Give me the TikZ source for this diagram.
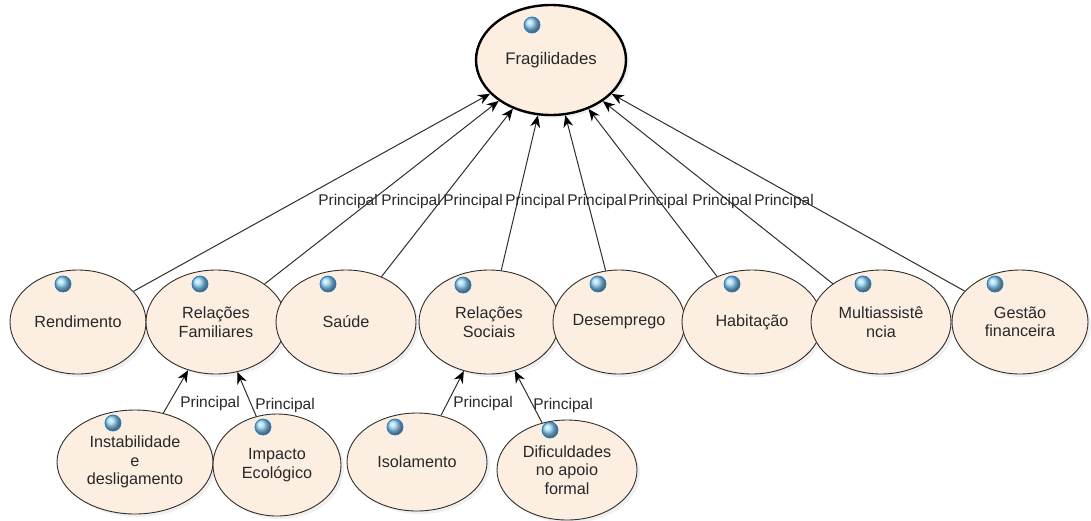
\documentclass[tikz,border=0pt]{standalone}
\usepackage{fontspec}
\setmainfont{Liberation Sans}
\usetikzlibrary{arrows.meta,shadows,shapes.geometric}
\definecolor{peach}{RGB}{252,239,225}
\definecolor{rim}{RGB}{50,45,40}
\definecolor{txt}{RGB}{40,40,40}
\definecolor{dotblue}{RGB}{150,215,252}
\definecolor{dotrim}{RGB}{40,125,195}

\begin{document}
\begin{tikzpicture}[x=1pt,y=-1pt] % pixel grid, y downwards
\tikzstyle{myoval} = [ellipse, draw=rim, line width=0.9pt, fill=peach, text=txt, align=center, inner sep=0pt,
  minimum width=140pt, minimum height=104pt, font=\fontsize{16.2}{18.5}\selectfont,
  drop shadow={opacity=0.12, shadow xshift=3pt, shadow yshift=-3pt}] % concept node
\tikzstyle{myroot} = [myoval, draw=black, line width=2.4pt, minimum width=150pt, minimum height=110pt,
  font=\fontsize{16.8}{19}\selectfont] % root node
\tikzstyle{link} = [draw=rim, line width=1pt, -{Stealth[length=12pt, width=10pt, black]}] % relation arrow
\tikzstyle{lbl} = [text=txt, inner sep=0pt, font=\fontsize{15.5}{18.5}\selectfont] % relation label
\tikzstyle{ball} = [ball color=dotblue, draw=dotrim, line width=0.8pt] % blue marker
\useasboundingbox (0,0) rectangle (1091,520);
\node[myroot] (frag) at (551,60) {Fragilidades};
% second row
\node[myoval, minimum width=136pt] (rend) at (78,322) {Rendimento};
\node[myoval] (relfam) at (216,322) {Relações\\Familiares};
\node[myoval] (saude) at (346,322) {Saúde};
\node[myoval] (relsoc) at (489,322) {Relações\\Sociais};
\node[myoval, minimum width=132pt] (desemp) at (619,322) {Desemprego};
\node[myoval] (habit) at (752,322) {Habitação};
\node[myoval] (multi) at (881,322) {Multiassistê\\ncia};
\node[myoval, minimum width=136pt] (gestao) at (1020,322) {Gestão\\financeira};
% third row
\node[myoval, minimum width=156pt] (inst) at (135,462) {Instabilidade\\e\\desligamento};
\node[myoval, minimum width=128pt, minimum height=102pt] (impacto) at (277,465) {Impacto\\Ecológico};
\node[myoval, minimum height=98pt] (isol) at (417,462) {Isolamento};
\node[myoval, minimum height=100pt] (dific) at (567,470) {Dificuldades\\no apoio\\formal};
% markers
\foreach \x/\y in {532/25, 63/284, 200/284, 328/284, 463/285, 598/284, 732/284, 863/284, 995/284,
  113/423, 263/427, 395/427, 550/430}
  \shadedraw[ball] (\x,\y) circle (8);
% arrows
\foreach \n in {rend,relfam,saude,relsoc,desemp,habit,multi,gestao}
  \draw[link] (\n) -- (frag);
\draw[link] (inst) -- (relfam);
\draw[link] (impacto) -- (relfam);
\draw[link] (isol) -- (relsoc);
\draw[link] (dific) -- (relsoc);
% labels
\foreach \x [count=\i] in {348,411,473,535,597,658,722,784}
  \node[lbl] (p\i) at (\x,201) {Principal};
\node[lbl] (q1) at (210,403) {Principal};
\node[lbl] (q2) at (285,405) {Principal};
\node[lbl] (q3) at (483,403) {Principal};
\node[lbl] (q4) at (563,405) {Principal};
\end{tikzpicture}
\end{document}
